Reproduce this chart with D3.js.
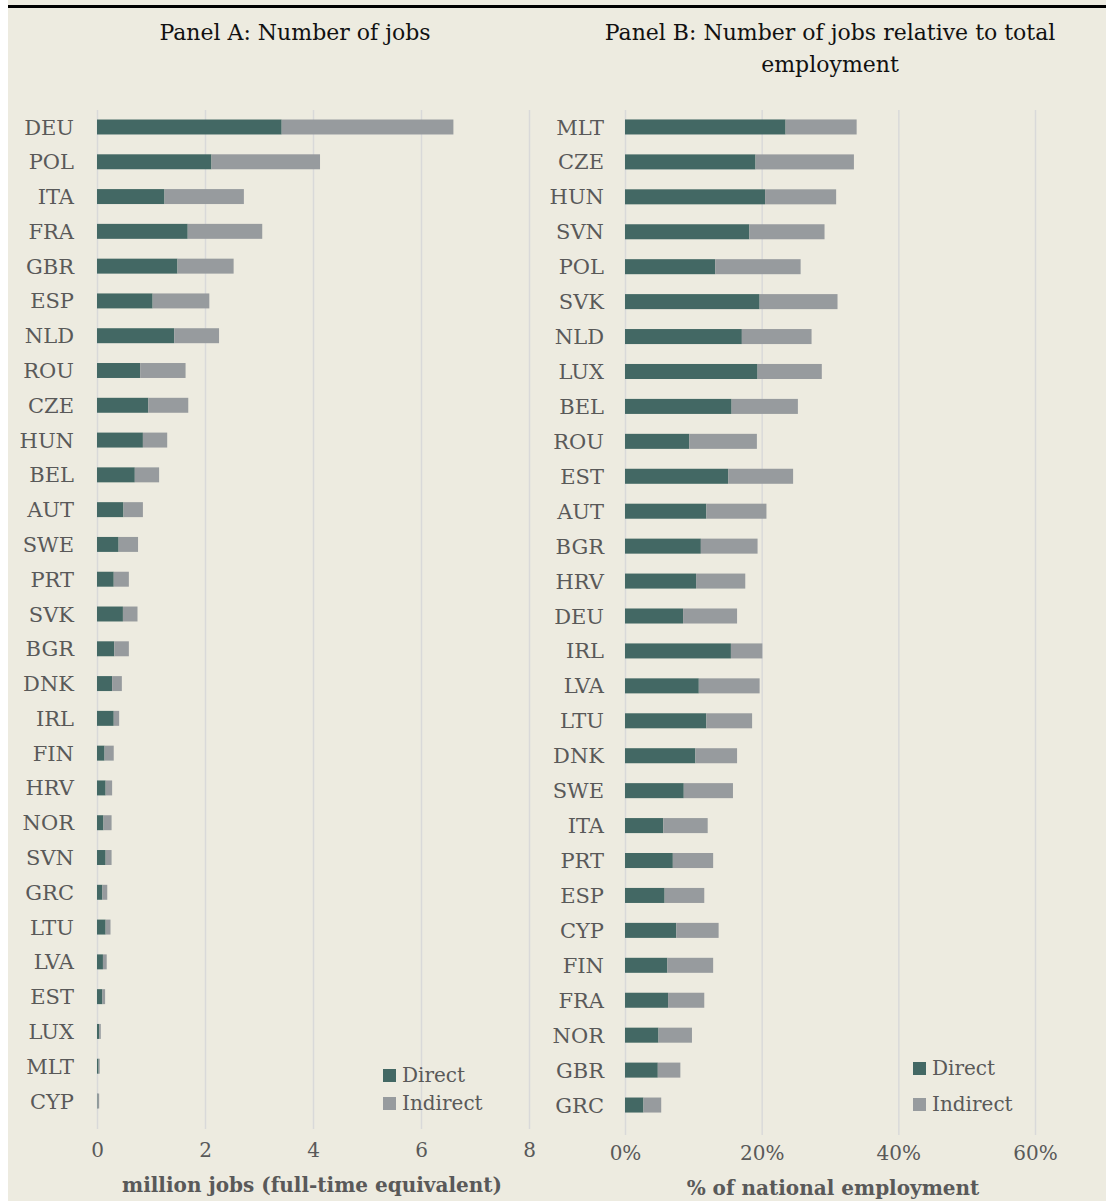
<!DOCTYPE html>
<html>
<head>
<meta charset="utf-8">
<script src="https://cdn.jsdelivr.net/npm/d3@7"></script>
<style>
  body { margin: 0; background: #fff; }
  svg text { font-family: "DejaVu Serif", "Liberation Serif", serif; }
</style>
</head>
<body>
<svg id="chart" width="1106" height="1201"></svg>
<script>
"use strict";

// Panel A: million jobs
var countriesA = ["DEU","POL","ITA","FRA","GBR","ESP","NLD","ROU","CZE","HUN","BEL","AUT","SWE","PRT","SVK","BGR","DNK","IRL","FIN","HRV","NOR","SVN","GRC","LTU","LVA","EST","LUX","MLT","CYP"];
var directA   = [3.42,2.12,1.25,1.68,1.49,1.03,1.43,0.80,0.95,0.85,0.70,0.49,0.40,0.31,0.48,0.32,0.28,0.31,0.14,0.16,0.12,0.16,0.10,0.16,0.11,0.10,0.04,0.03,0.01];
var indirectA = [3.18,2.01,1.47,1.38,1.04,1.05,0.83,0.84,0.74,0.45,0.45,0.36,0.36,0.28,0.27,0.27,0.18,0.10,0.17,0.12,0.15,0.11,0.09,0.09,0.07,0.05,0.03,0.02,0.03];
var ticksA = [0, 2, 4, 6, 8];

// Panel B: % of national employment
var countriesB = ["MLT","CZE","HUN","SVN","POL","SVK","NLD","LUX","BEL","ROU","EST","AUT","BGR","HRV","DEU","IRL","LVA","LTU","DNK","SWE","ITA","PRT","ESP","CYP","FIN","FRA","NOR","GBR","GRC"];
var directB   = [23.5,19.1,20.5,18.2,13.2,19.7,17.1,19.4,15.6,9.4,15.1,11.9,11.1,10.4,8.5,15.5,10.8,11.9,10.3,8.6,5.6,7.0,5.8,7.5,6.2,6.3,4.9,4.8,2.7];
var indirectB = [10.4,14.4,10.4,11.0,12.5,11.4,10.2,9.4,9.7,9.9,9.5,8.8,8.3,7.2,7.9,4.6,8.9,6.7,6.1,7.2,6.5,5.9,5.8,6.2,6.7,5.3,4.9,3.3,2.6];
var ticksB = [0, 20, 40, 60];

var seriesNames = ["Direct", "Indirect"];
var colors = ["#436864", "#979B9E"];

var svg = d3.select("#chart");

svg.append("rect")
  .attr("x", 8).attr("y", 0)
  .attr("width", 1098).attr("height", 1201)
  .attr("fill", "#EDEBE0");

svg.append("line")
  .attr("x1", 8).attr("x2", 1106)
  .attr("y1", 6.5).attr("y2", 6.5)
  .attr("stroke", "#000").attr("stroke-width", 3);

function drawPanel(opt) {
  var rows = opt.countries.map(function(c, i) {
    return { name: c, direct: opt.direct[i], indirect: opt.indirect[i] };
  });

  var x = d3.scaleLinear().domain(opt.domain).range(opt.xRange);
  var y = d3.scaleBand().domain(opt.countries).range(opt.yRange).paddingInner(0.57).paddingOuter(0.285);

  var g = svg.append("g");

  // gridlines
  var grid = g.append("g")
    .attr("transform", "translate(0," + opt.gridBottom + ")")
    .call(d3.axisBottom(x).tickValues(opt.ticks).tickSize(-(opt.gridBottom - opt.gridTop)).tickFormat(""));
  grid.select(".domain").remove();
  grid.selectAll("line").attr("stroke", "#D9D9D9").attr("stroke-width", 1.5);

  // stacked bars
  var stack = d3.stack().keys(["direct", "indirect"]);
  var layers = stack(rows);
  g.selectAll("g.layer")
    .data(layers)
    .enter().append("g")
    .attr("class", "layer")
    .attr("fill", function(d, i) { return colors[i]; })
    .selectAll("rect")
    .data(function(d) { return d; })
    .enter().append("rect")
    .attr("x", function(d) { return x(d[0]); })
    .attr("width", function(d) { return x(d[1]) - x(d[0]); })
    .attr("y", function(d) { return y(d.data.name); })
    .attr("height", y.bandwidth());

  // category axis
  var ya = g.append("g")
    .attr("transform", "translate(" + opt.labelX + ",0)")
    .call(d3.axisLeft(y).tickSize(0).tickPadding(0));
  ya.select(".domain").remove();
  ya.selectAll("text")
    .attr("fill", "#595959")
    .style("font-size", "21px")
    .attr("dy", "0.36em");

  // value axis
  var xa = g.append("g")
    .attr("transform", "translate(0," + opt.tickY + ")")
    .call(d3.axisBottom(x).tickValues(opt.ticks).tickSize(0).tickPadding(0).tickFormat(opt.fmt));
  xa.select(".domain").remove();
  xa.selectAll("text")
    .attr("fill", "#595959")
    .style("font-size", "20px")
    .attr("dy", "0.36em");

  g.append("text")
    .attr("x", opt.axisTitleX).attr("y", opt.axisTitleY)
    .attr("text-anchor", "middle")
    .attr("fill", "#595959")
    .style("font-size", "20px")
    .style("font-weight", "bold")
    .text(opt.axisTitle);

  // panel title
  g.selectAll("text.ptitle")
    .data(opt.title)
    .enter().append("text")
    .attr("class", "ptitle")
    .attr("x", opt.titleX)
    .attr("y", function(d, i) { return 40 + i * 32; })
    .attr("text-anchor", "middle")
    .attr("fill", "#111")
    .style("font-size", "22px")
    .text(function(d) { return d; });

  // legend
  var lg = g.selectAll("g.legend")
    .data(seriesNames)
    .enter().append("g")
    .attr("class", "legend")
    .attr("transform", function(d, i) { return "translate(" + opt.legendX + "," + opt.legendY[i] + ")"; });
  lg.append("rect")
    .attr("x", 0).attr("y", -6)
    .attr("width", 13).attr("height", 13)
    .attr("fill", function(d, i) { return colors[i]; });
  lg.append("text")
    .attr("x", 19).attr("y", 0)
    .attr("dy", "0.36em")
    .attr("fill", "#595959")
    .style("font-size", "20px")
    .text(function(d) { return d; });
}

drawPanel({
  countries: countriesA, direct: directA, indirect: indirectA,
  domain: [0, 8], ticks: ticksA, fmt: d3.format("d"),
  xRange: [97, 529], yRange: [109.6, 1118.4], gridTop: 110, gridBottom: 1129, labelX: 74,
  tickY: 1150, axisTitle: "million jobs (full-time equivalent)", axisTitleX: 312, axisTitleY: 1192,
  title: ["Panel A: Number of jobs"], titleX: 295,
  legendX: 383, legendY: [1075, 1103]
});

drawPanel({
  countries: countriesB, direct: directB, indirect: indirectB,
  domain: [0, 60], ticks: ticksB, fmt: function(d) { return d + "%"; },
  xRange: [625, 1035], yRange: [109.5, 1122.5], gridTop: 110, gridBottom: 1135, labelX: 604,
  tickY: 1153, axisTitle: "% of national employment", axisTitleX: 833, axisTitleY: 1195,
  title: ["Panel B: Number of jobs relative to total", "employment"], titleX: 830,
  legendX: 913, legendY: [1068, 1104]
});
</script>
</body>
</html>
